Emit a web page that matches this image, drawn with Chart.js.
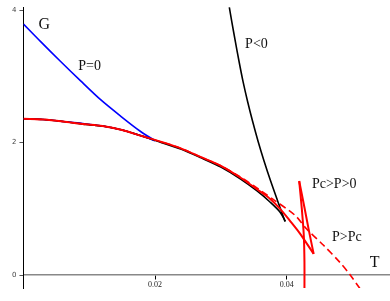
<!DOCTYPE html>
<html>
<head>
<meta charset="utf-8">
<script src="https://cdn.jsdelivr.net/npm/chart.js@4/dist/chart.umd.min.js"></script>
<style>
  html, body { margin: 0; padding: 0; background: #fff; }
  #wrap { width: 390px; height: 301px; }
</style>
</head>
<body>
<div id="wrap"><canvas id="c"></canvas></div>
<script>
// values (T on x, G on y)
const xTicks = [0.02, 0.04];
const yTicks = [0, 2, 4];

// P=0 : lower branch up to the cusp, then upper branch back to T=0
const p0LowT = [0, 0.003, 0.006, 0.009, 0.012, 0.015, 0.018, 0.0200];
const p0LowG = [2.36, 2.35, 2.32, 2.29, 2.25, 2.19, 2.10, 2.03];
const p0UpT  = [0.0200, 0.01775, 0.01472, 0.01168, 0.00865, 0.00561, 0.00258, 0];
const p0UpG  = [2.03, 2.172, 2.404, 2.652, 2.936, 3.229, 3.528, 3.790];

// P<0
const negLowT = [0, 0.003, 0.006, 0.009, 0.012, 0.015, 0.018, 0.021, 0.024, 0.027, 0.030, 0.033, 0.0355, 0.0375, 0.0390, 0.0398];
const negLowG = [2.36, 2.35, 2.32, 2.28, 2.25, 2.19, 2.10, 2.00, 1.90, 1.77, 1.63, 1.45, 1.27, 1.10, 0.95, 0.81];
const negUpT  = [0.03975, 0.03861, 0.03755, 0.03656, 0.03565, 0.03482, 0.03406, 0.03337, 0.03277, 0.03221, 0.03167, 0.03128];
const negUpG  = [0.81, 1.124, 1.423, 1.723, 2.022, 2.322, 2.622, 2.921, 3.221, 3.521, 3.820, 4.045];

// Pc>P>0 (swallowtail)
const midLowT = [0, 0.003, 0.006, 0.009, 0.012, 0.015, 0.018, 0.021, 0.024, 0.027, 0.030, 0.033, 0.036, 0.0375, 0.039, 0.0405, 0.042, 0.0441];
const midLowG = [2.36, 2.35, 2.32, 2.28, 2.25, 2.19, 2.10, 2.01, 1.91, 1.78, 1.65, 1.47, 1.26, 1.15, 1.00, 0.82, 0.63, 0.32];
const midMidT = [0.0441, 0.0434, 0.0427, 0.0419];
const midMidG = [0.32, 0.66, 1.02, 1.42];
const midUpT  = [0.0419, 0.0423, 0.0426, 0.0427, 0.0427];
const midUpG  = [1.42, 1.0, 0.6, 0.2, -0.2];

// P>Pc
const highT = [0, 0.003, 0.006, 0.009, 0.012, 0.015, 0.018, 0.021, 0.024, 0.027, 0.030, 0.033, 0.036, 0.038, 0.0413, 0.043, 0.0456, 0.0481, 0.0496, 0.0511];
const highG = [2.36, 2.35, 2.32, 2.28, 2.25, 2.19, 2.10, 2.01, 1.91, 1.78, 1.65, 1.48, 1.28, 1.14, 0.90, 0.70, 0.45, 0.19, 0.01, -0.2];

// text written on the plot: [text, T, G, font size]
const notes = [
  ["G", 0.00228, 3.715, 16],
  ["P=0", 0.00834, 3.10, 14],
  ["P<0", 0.03368, 3.43, 14],
  ["Pc>P>0", 0.04384, 1.318, 14],
  ["P>Pc", 0.04688, 0.509, 14],
  ["T", 0.05264, 0.12, 16]
];

const pts = (xs, ys) => xs.map((x, i) => ({x: x, y: ys[i]}));

function curve(xs, ys, color, width, dash) {
  return {
    data: pts(xs, ys),
    showLine: true,
    borderColor: color,
    borderWidth: width,
    borderDash: dash || [],
    pointRadius: 0,
    tension: 0.3,
    fill: false
  };
}

const red = "#ff0000", blue = "#0000ff", black = "#000000";

// draw the text labels at their data positions
const notesPlugin = {
  id: "notes",
  afterDatasetsDraw(chart) {
    const ctx = chart.ctx;
    const xs = chart.scales.x, ys = chart.scales.y;
    ctx.save();
    ctx.fillStyle = "#111";
    ctx.textAlign = "left";
    ctx.textBaseline = "alphabetic";
    notes.forEach(n => {
      ctx.font = n[3] + "px 'Liberation Serif', serif";
      ctx.fillText(n[0], xs.getPixelForValue(n[1]), ys.getPixelForValue(n[2]));
    });
    ctx.restore();
  }
};

new Chart(document.getElementById("c"), {
  type: "scatter",
  data: {
    datasets: [
      curve(midLowT, midLowG, red, 2),
      curve(midMidT, midMidG, red, 2),
      curve(midUpT, midUpG, red, 2),
      curve(negLowT, negLowG, black, 1.6),
      curve(negUpT, negUpG, black, 1.6),
      curve(p0LowT, p0LowG, blue, 1.6),
      curve(p0UpT, p0UpG, blue, 1.6),
      curve(highT, highG, red, 1.6, [7, 4])
    ]
  },
  options: {
    responsive: true,
    maintainAspectRatio: false,
    animation: false,
    layout: { padding: { left: 9, top: 5, right: 0, bottom: 13 } },
    plugins: { legend: { display: false }, tooltip: { enabled: false } },
    scales: {
      x: {
        type: "linear",
        position: { y: 0 },
        min: 0,
        max: 0.0557,
        afterBuildTicks: s => { s.ticks = xTicks.map(v => ({value: v})); },
        border: { display: true, color: "#888", width: 1.5 },
        grid: { drawOnChartArea: false, drawTicks: true, tickLength: 4, color: "#000" },
        ticks: {
          font: { family: "'Liberation Serif', serif", size: 8 },
          color: "#222",
          padding: 1,
          maxRotation: 0,
          callback: v => v.toFixed(2)
        }
      },
      y: {
        type: "linear",
        position: "left",
        min: -0.195,
        max: 4.045,
        afterBuildTicks: s => { s.ticks = yTicks.map(v => ({value: v})); },
        border: { display: true, color: "#000", width: 1 },
        grid: { drawOnChartArea: false, drawTicks: true, tickLength: 4, color: "#555" },
        ticks: {
          font: { family: "'DejaVu Sans', sans-serif", size: 7 },
          color: "#444",
          padding: 3
        }
      }
    }
  },
  plugins: [notesPlugin]
});
</script>
</body>
</html>
